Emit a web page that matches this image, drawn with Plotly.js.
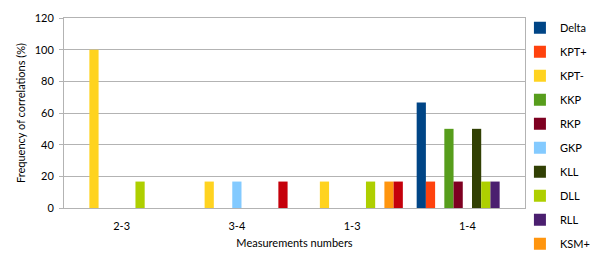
<!DOCTYPE html>
<html>
<head>
<meta charset="utf-8">
<script src="https://cdn.plot.ly/plotly-3.0.1.min.js"></script>
<style>html,body{margin:0;padding:0;background:#fff;}#chart{width:599px;height:265px;}</style>
</head>
<body>
<div id="chart"></div>
<script>
const categories = ["2-3", "3-4", "1-3", "1-4"];
const seriesNames = ["Delta", "KPT+", "KPT-", "KKP", "RKP", "GKP", "KLL", "DLL", "RLL", "KSM+", "KSM-"];
const delta = [0, 0, 0, 66.7];
const kptPlus = [0, 0, 0, 16.7];
const kptMinus = [100, 16.7, 16.7, 0];
const kkp = [0, 0, 0, 50];
const rkp = [0, 0, 0, 16.7];
const gkp = [0, 16.7, 0, 0];
const kll = [0, 0, 0, 50];
const dll = [16.7, 0, 16.7, 16.7];
const rll = [0, 0, 0, 16.7];
const ksmPlus = [0, 0, 16.7, 0];
const ksmMinus = [0, 16.7, 16.7, 0];
const seriesValues = [delta, kptPlus, kptMinus, kkp, rkp, gkp, kll, dll, rll, ksmPlus, ksmMinus];
const colors = ["#004586", "#FF420E", "#FFD320", "#579D1C", "#7E0021", "#83CAFF", "#314004", "#AECF00", "#4B1F6F", "#FF950E", "#C5000B"];
const yTicks = [0, 20, 40, 60, 80, 100, 120];

const FONT = "Lato, 'Open Sans', sans-serif";
const traces = seriesNames.map((name, i) => ({
  type: "bar",
  name: name,
  x: categories,
  y: seriesValues[i],
  marker: {color: colors[i], line: {width: 0}},
  legendgroup: "g" + i,
  showlegend: i < 10,
  hoverinfo: "name+y"
}));

const layout = {
  width: 599,
  height: 265,
  margin: {l: 64, r: 74, t: 18, b: 57, autoexpand: false},
  paper_bgcolor: "#ffffff",
  plot_bgcolor: "#ffffff",
  font: {family: FONT, size: 11, color: "#000000"},
  barmode: "group",
  bargap: 0.12,
  bargroupgap: 0,
  xaxis: {
    type: "category",
    showline: true,
    linecolor: "#b3b3b3",
    linewidth: 1,
    mirror: true,
    ticks: "",
    ticklabelstandoff: 8,
    showgrid: false,
    tickfont: {family: FONT, size: 11},
    title: {text: "Measurements numbers", font: {family: FONT, size: 11}, standoff: 8}
  },
  yaxis: {
    range: [0, 120],
    tickvals: yTicks,
    showline: true,
    linecolor: "#b3b3b3",
    linewidth: 1,
    mirror: true,
    ticks: "outside",
    ticklen: 4,
    tickcolor: "#b3b3b3",
    ticklabelstandoff: 3,
    showgrid: true,
    gridcolor: "#b3b3b3",
    gridwidth: 1,
    zeroline: false,
    tickfont: {family: FONT, size: 11},
    title: {text: "Frequency of correlations (%)", font: {family: FONT, size: 11}, standoff: 6}
  },
  legend: {
    x: 0.989,
    xanchor: "left",
    y: 1.025,
    yanchor: "top",
    traceorder: "grouped",
    tracegroupgap: 5,
    maxheight: 265,
    font: {family: FONT, size: 11},
    bgcolor: "rgba(0,0,0,0)",
    itemclick: false
  },
  showlegend: true
};

Plotly.newPlot("chart", traces, layout, {displayModeBar: false, staticPlot: true});
</script>
</body>
</html>
